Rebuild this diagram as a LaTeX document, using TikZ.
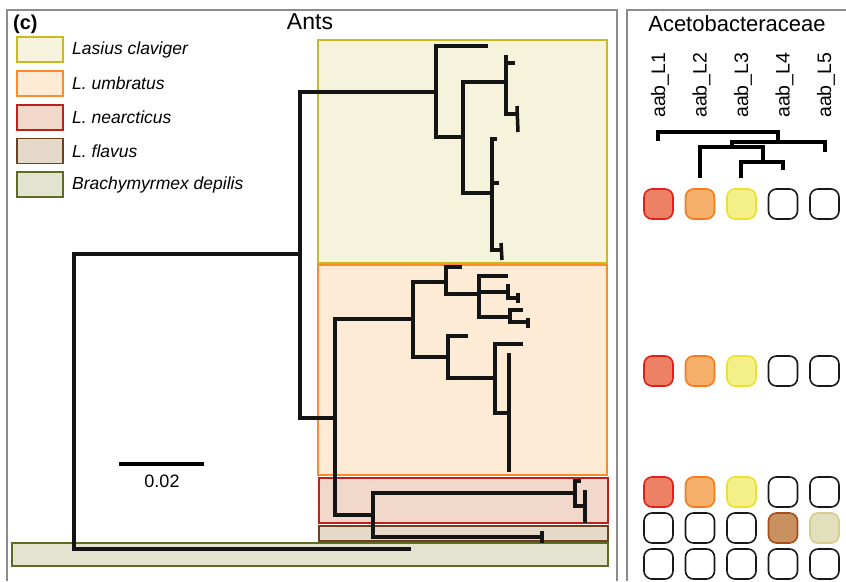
\documentclass[tikz,border=0pt]{standalone}
\usepackage{fontspec}
\setmainfont{Liberation Sans}
% clade colours
\definecolor{clavF}{HTML}{F5F3DC}\definecolor{clavD}{HTML}{C8BB22}
\definecolor{umbF}{HTML}{FDEBD6}\definecolor{umbD}{HTML}{FF8A2A}
\definecolor{nearF}{HTML}{F2D8CB}\definecolor{nearD}{HTML}{C0201A}
\definecolor{flavF}{HTML}{E5DACA}\definecolor{flavD}{HTML}{6E4020}
\definecolor{brachF}{HTML}{E3E3CF}\definecolor{brachD}{HTML}{5E6B22}
% cell colours
\definecolor{cRedF}{HTML}{EC8166}\definecolor{cRedD}{HTML}{E3201B}
\definecolor{cOrF}{HTML}{F6B06C}\definecolor{cOrD}{HTML}{FA7A1E}
\definecolor{cYeF}{HTML}{F3F08A}\definecolor{cYeD}{HTML}{EBE22E}
\definecolor{cBrF}{HTML}{C99160}\definecolor{cBrD}{HTML}{A64F1A}
\definecolor{cKhF}{HTML}{E2DFBC}\definecolor{cKhD}{HTML}{D4CB8C}
\definecolor{frameG}{HTML}{8C8C8C}
\begin{document}
\begin{tikzpicture}[x=1pt,y=-1pt,
  tree/.style={line width=3.5pt,black!92},
  clade/.style={line width=1.3pt},
  legbox/.style={draw,line width=1.6pt,minimum width=46pt,minimum height=25pt,inner sep=0,anchor=west},
  legtext/.style={anchor=west,inner sep=0,font=\fontsize{17.5}{20}\selectfont\itshape},
  cell/.style={draw,line width=1.6pt,minimum width=29pt,minimum height=30pt,rounded corners=8pt,inner sep=0},
  cE/.style={cell,fill=white,draw=black!90},
  cR/.style={cell,fill=cRedF,draw=cRedD},
  cO/.style={cell,fill=cOrF,draw=cOrD},
  cY/.style={cell,fill=cYeF,draw=cYeD},
  cB/.style={cell,fill=cBrF,draw=cBrD},
  cK/.style={cell,fill=cKhF,draw=cKhD},
  collab/.style={rotate=90,anchor=base west,inner sep=0,font=\fontsize{19.5}{22}\selectfont},
  dend/.style={line width=3.5pt,black}]
\useasboundingbox (0,0) rectangle (846,581);
\fill[white] (0,0) rectangle (846,581);

% panel frames
\draw[frameG,line width=1.5pt] (7,581) -- (7,10) -- (617,10) -- (617,581);
\draw[frameG,line width=1.5pt] (627,581) -- (627,10) -- (846,10);

% titles
\node[anchor=west,inner sep=0,font=\fontsize{20}{22}\selectfont\bfseries] (panel) at (13,24) {(c)};
\node[inner sep=0,font=\fontsize{23}{26}\selectfont] (ants) at (310,22) {Ants};
\node[inner sep=0,font=\fontsize{22}{25}\selectfont] (aceto) at (737,24) {Acetobacteraceae};

% legend
\node[legbox,fill=clavF,draw=clavD] (lg1) at (16,49.5) {};
\node[legbox,fill=umbF,draw=umbD] (lg2) at (16,83.5) {};
\node[legbox,fill=nearF,draw=nearD] (lg3) at (16,117.5) {};
\node[legbox,fill=flavF,draw=flavD] (lg4) at (16,151) {};
\node[legbox,fill=brachF,draw=brachD] (lg5) at (16,184.5) {};
\node[legtext] (lt1) at (72,49.5) {Lasius claviger};
\node[legtext] (lt2) at (72,83.5) {L. umbratus};
\node[legtext] (lt3) at (72,117.5) {L. nearcticus};
\node[legtext] (lt4) at (72,151) {L. flavus};
\node[legtext] (lt5) at (72,184.5) {Brachymyrmex depilis};

% clade boxes
\filldraw[clade,fill=clavF,draw=clavD] (318,40) rectangle (607,263);
\filldraw[clade,fill=umbF,draw=umbD] (318,265) rectangle (607,475);
\filldraw[clade,fill=nearF,draw=nearD] (319,478) rectangle (608,523);
\filldraw[clade,fill=flavF,draw=flavD] (319,526) rectangle (608,541);
\filldraw[clade,fill=brachF,draw=brachD] (12,543) rectangle (608,566);

% scale bar
\draw[line width=4pt] (119,464) -- (204,464);
\node[inner sep=0,font=\fontsize{18}{20}\selectfont] (scale) at (162,481) {0.02};

% ant tree: root and backbone
\draw[tree] (300,254) -- (74,254) -- (74,549) -- (411,549);
\draw[tree] (436,92) -- (300,92) -- (300,418) -- (335,418);
% Lasius claviger
\draw[tree] (488,46) -- (436,46) -- (436,137) -- (463,137);
\draw[tree] (506,82) -- (463,82) -- (463,193) -- (492,193);
\draw[tree] (506,55) -- (506,114) -- (517,114);
\draw[tree] (506,63) -- (515,63);
\draw[tree] (517,106) -- (518,132);
\draw[tree] (497,139) -- (492,139) -- (492,250) -- (501,250);
\draw[tree] (492,183) -- (499,183);
\draw[tree] (501,243) -- (502,260);
% L. umbratus
\draw[tree] (413,319) -- (335,319) -- (335,515) -- (373,515);
\draw[tree] (446,282) -- (413,282) -- (413,357) -- (448,357);
\draw[tree] (462,267) -- (446,267) -- (446,294) -- (479,294);
\draw[tree] (508,276) -- (479,276) -- (479,317) -- (510,317);
\draw[tree] (479,292) -- (508,292);
\draw[tree] (508,284) -- (508,298) -- (518,298);
\draw[tree] (518,293) -- (518,303);
\draw[tree] (523,310) -- (510,310) -- (510,322) -- (528,322);
\draw[tree] (528,318) -- (528,328);
\draw[tree] (468,336) -- (448,336) -- (448,378) -- (495,378);
\draw[tree] (523,344) -- (495,344) -- (495,413) -- (509,413);
\draw[tree] (509,353) -- (509,472);
% L. nearcticus and L. flavus
\draw[tree] (575,493) -- (373,493) -- (373,537) -- (542,537);
\draw[tree] (542,531) -- (542,543);
\draw[tree] (581,481) -- (575,481) -- (575,506) -- (585,506);
\draw[tree] (585,490) -- (585,523);

% bacterial column labels
\node[collab] (l1) at (665,118) {aab\_L1};
\node[collab] (l2) at (706.5,118) {aab\_L2};
\node[collab] (l3) at (748,118) {aab\_L3};
\node[collab] (l4) at (789.5,118) {aab\_L4};
\node[collab] (l5) at (831,118) {aab\_L5};

% bacterial dendrogram
\draw[dend] (658,141) -- (658,132) -- (778,132) -- (778,142);
\draw[dend] (825,152) -- (825,142) -- (732,142) -- (732,147);
\draw[dend] (700,178) -- (700,147) -- (763,147) -- (763,162);
\draw[dend] (741,178) -- (741,162) -- (783,162) -- (783,170);

% presence cells
\foreach \r/\y/\a/\b/\c/\d/\e in {1/204/cR/cO/cY/cE/cE, 2/371/cR/cO/cY/cE/cE, 3/492/cR/cO/cY/cE/cE, 4/528/cE/cE/cE/cB/cK, 5/564/cE/cE/cE/cE/cE}{
  \node[\a] (c\r-1) at (658.5,\y) {};
  \node[\b] (c\r-2) at (700,\y) {};
  \node[\c] (c\r-3) at (741.5,\y) {};
  \node[\d] (c\r-4) at (783,\y) {};
  \node[\e] (c\r-5) at (824.5,\y) {};
}
\end{tikzpicture}
\end{document}
